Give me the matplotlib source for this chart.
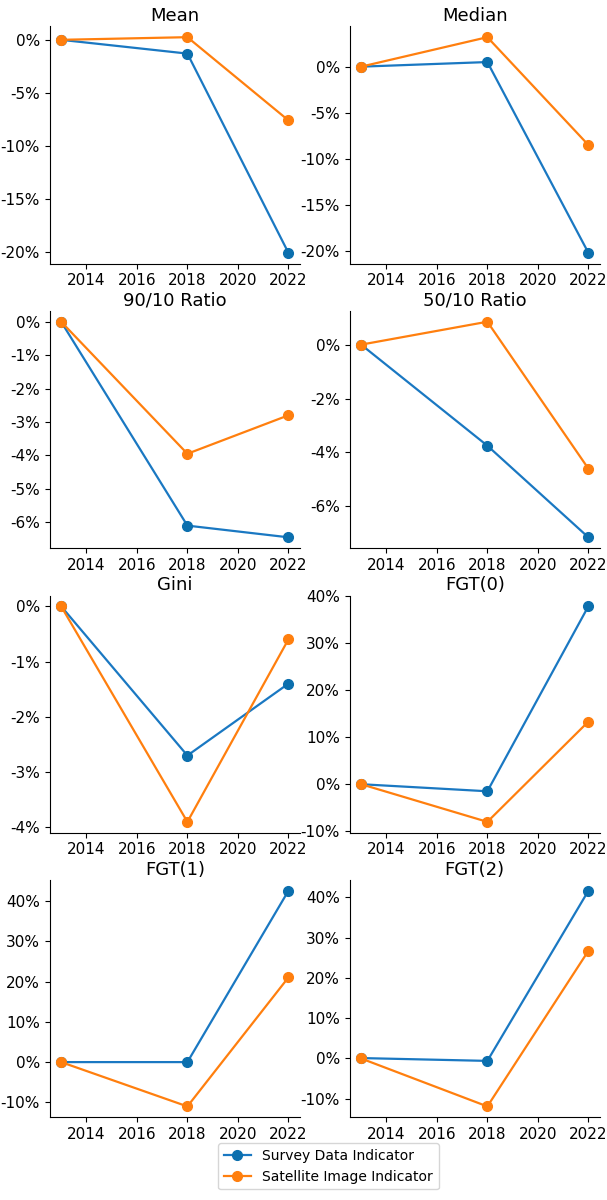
import matplotlib
matplotlib.use('Agg')
import matplotlib.pyplot as plt
from matplotlib.ticker import FuncFormatter, MultipleLocator

# data (percent change relative to 2013)
years = [2013, 2018, 2022]
titles = ['Mean', 'Median', '90/10 Ratio', '50/10 Ratio',
          'Gini', 'FGT(0)', 'FGT(1)', 'FGT(2)']
survey = [
    [0, -1.3, -20.1],
    [0, 0.5, -20.2],
    [0, -6.1, -6.45],
    [0, -3.75, -7.15],
    [0, -2.7, -1.4],
    [0, -1.5, 37.8],
    [0, 0.0, 42.5],
    [0.1, -0.6, 41.6],
]
satellite = [
    [0, 0.25, -7.6],
    [0, 3.2, -8.5],
    [0, -3.95, -2.8],
    [0, 0.85, -4.6],
    [0, -3.9, -0.6],
    [0, -8.0, 13.3],
    [0, -11.0, 21.0],
    [0, -11.9, 26.7],
]
# y tick step per panel (None = automatic)
ystep = [None, None, 1, None, None, None, None, None]

fig, axes = plt.subplots(4, 2, figsize=(6.07, 12), dpi=100)
fig.subplots_adjust(left=0.082, right=0.988, top=0.978, bottom=0.069,
                    hspace=0.2, wspace=0.2)

pct = FuncFormatter(lambda v, p: f"{v:.0f}%".replace('\u2212', '-'))

for i, ax in enumerate(axes.flat):
    l1, = ax.plot(years, survey[i], color='#1a78c2', marker='o',
                  markersize=7, markerfacecolor='#0b6fae', markeredgecolor='#0b6fae',
                  linewidth=1.6, label='Survey Data Indicator')
    l2, = ax.plot(years, satellite[i], color='#ff7f0e', marker='o',
                  markersize=7, linewidth=1.6, label='Satellite Image Indicator')
    ax.set_title(titles[i], fontsize=13, pad=4)
    ax.set_xticks([2014, 2016, 2018, 2020, 2022])
    if ystep[i]:
        ax.yaxis.set_major_locator(MultipleLocator(ystep[i]))
    ax.yaxis.set_major_formatter(pct)
    ax.tick_params(labelsize=11)
    ax.spines['top'].set_visible(False)
    ax.spines['right'].set_visible(False)

fig.legend([l1, l2], ['Survey Data Indicator', 'Satellite Image Indicator'],
           loc='lower center', bbox_to_anchor=(0.541, 0.003), fontsize=10)

plt.savefig('out.png', dpi=100)
